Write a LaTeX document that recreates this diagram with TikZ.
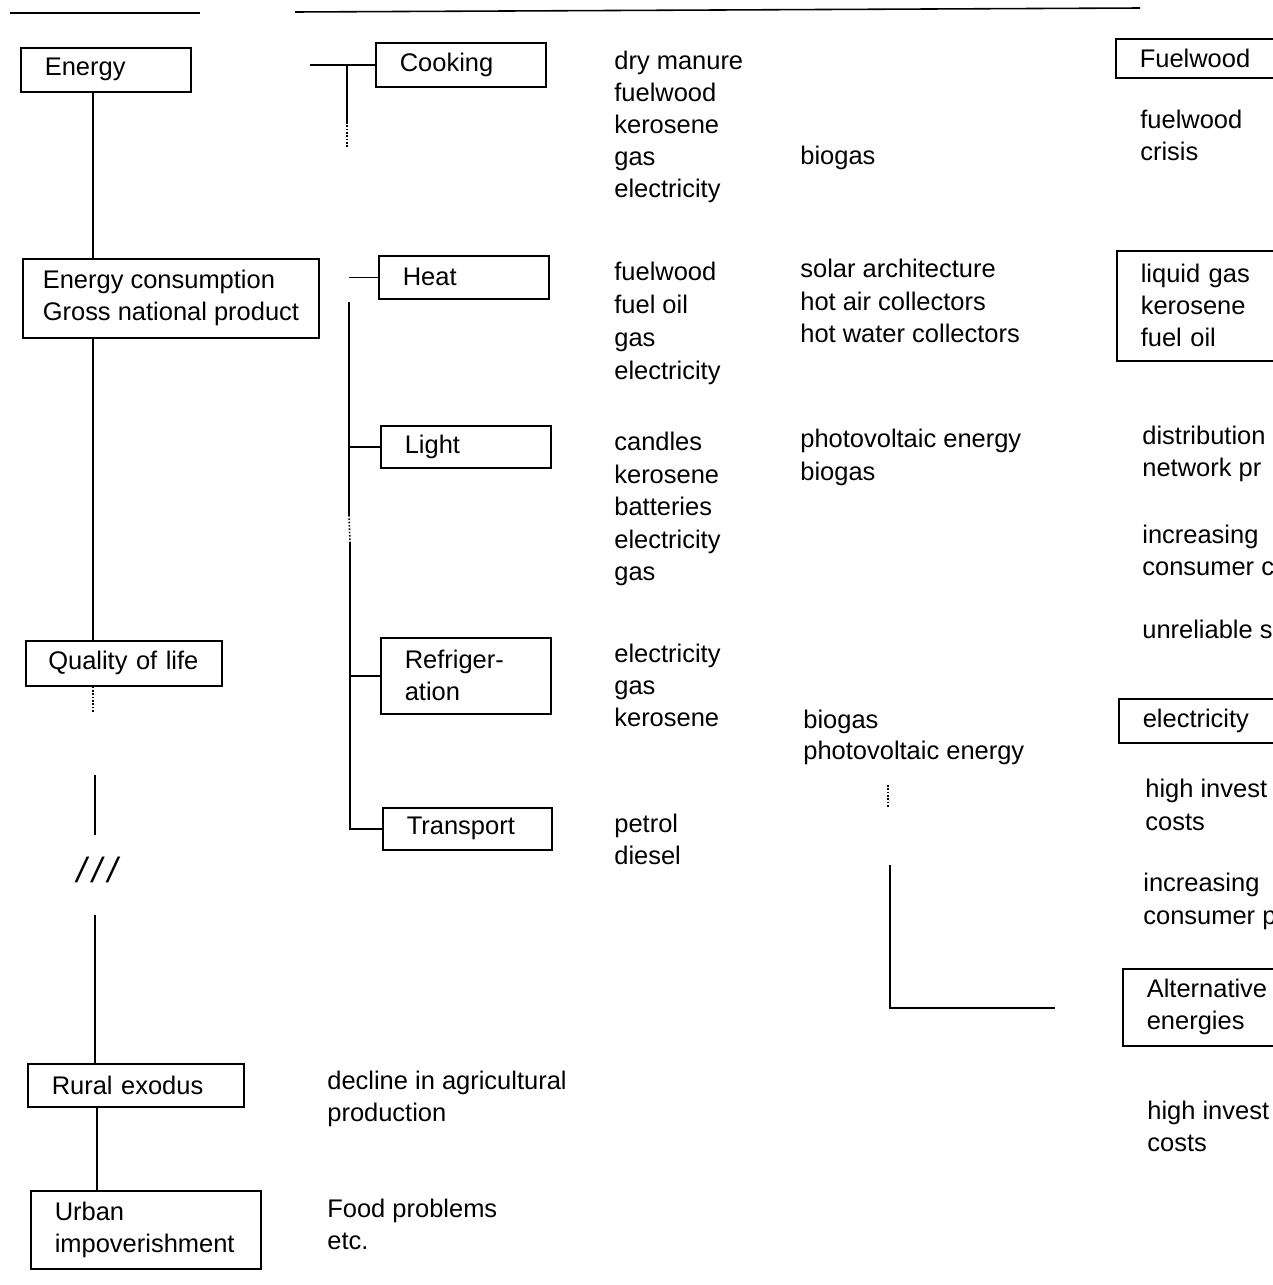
\documentclass[tikz,border=0pt]{standalone}
\usepackage{fontspec}
\setmainfont{Liberation Sans}
\begin{document}
\begin{tikzpicture}[x=0.02cm,y=-0.02cm,
	every node/.style={font=\fontsize{14.5}{18.2}\selectfont},
	box/.style={draw,line width=0.9pt,anchor=north west,align=left,inner xsep=0.48cm,inner ysep=0pt},
	item/.style={anchor=west,inner sep=0pt,text height=1.4ex,text depth=0pt},
	link/.style={line width=0.9pt}]
	\useasboundingbox (0,0) rectangle (1273,1285);
	\clip (0,0) rectangle (1273,1285);
	\coordinate (rulea) at (10,13);
	\coordinate (ruleb) at (200,13);
	\coordinate (rulec) at (295,12);
	\coordinate (ruled) at (1140,8);
	\draw[link] (rulea) to (ruleb);
	\draw[link] (rulec) to (ruled);
	% left column
	\node[box,text width=2.44cm,minimum height=0.88cm] (energy) at (20,47) {Energy};
	\node[box,inner xsep=0.4cm,minimum width=5.92cm,minimum height=1.58cm] (consum) at (22,258) {Energy consumption\\Gross national product};
	\node[box,inner xsep=0.45cm,text width=3.02cm,minimum height=0.9cm] (quality) at (25,640) {Quality of life};
	\node[box,text width=3.36cm,minimum height=0.86cm] (rural) at (27,1063) {Rural exodus};
	\node[box,text width=3.64cm,minimum height=1.56cm] (urban) at (30,1190) {Urban\\impoverishment};
	\node (brk) at (97,870) {\fontsize{20}{20}\selectfont\itshape /\,/\,/};
	\coordinate (lsp) at (93,0);
	\coordinate (rsp) at (97,0);
	\coordinate (qdot) at (93,712);
	\coordinate (brka) at (95,775);
	\coordinate (brkb) at (95,835);
	\coordinate (brkc) at (95,915);
	\draw[link] (energy.south -| lsp) to (consum.north -| lsp);
	\draw[link] (consum.south -| lsp) to (quality.north -| lsp);
	\draw[link,densely dotted] (quality.south -| lsp) to (qdot);
	\draw[link] (brka) to (brkb);
	\draw[link] (brkc) to (rural.north -| brkc);
	\draw[link] (rural.south -| rsp) to (urban.north -| rsp);
	\foreach \t [count=\i from 0] in {decline in agricultural,production}
		\node[item] (agri\i) at (327,1083+32*\i) {\t};
	\foreach \t [count=\i from 0] in {Food problems,etc.}
		\node[item] (food\i) at (327,1211+32*\i) {\t};
	% uses
	\node[box,text width=2.44cm,minimum height=0.88cm] (cooking) at (375,42) {Cooking};
	\node[box,text width=2.44cm,minimum height=0.86cm] (heat) at (378,255) {Heat};
	\node[box,text width=2.44cm,minimum height=0.84cm] (light) at (380,425) {Light};
	\node[box,text width=2.44cm,minimum height=1.52cm] (refrig) at (380,637) {Refriger-\\ation};
	\node[box,text width=2.42cm,minimum height=0.84cm] (transport) at (382,807) {Transport};
	\coordinate (ckin) at (310,0);
	\coordinate (cksp) at (347,0);
	\coordinate (ckend) at (347,122);
	\coordinate (ckdot) at (347,148);
	\coordinate (msp) at (349,0);
	\coordinate (mtop) at (349,302);
	\coordinate (mgapa) at (349,515);
	\coordinate (mgapb) at (350,542);
	\draw[link] (cooking.west -| ckin) to (cooking.west);
	\draw[link] (cooking.west -| cksp) to (ckend);
	\draw[link,densely dotted] (ckend) to (ckdot);
	\draw[link] (heat.west -| msp) to (heat.west);
	\draw[link] (mtop) to (mgapa);
	\draw[link,densely dotted] (mgapa) to (mgapb);
	\draw[link] (mgapb) to (transport.west -| mgapb) to (transport.west);
	\draw[link] (light.west -| msp) to (light.west);
	\draw[link] (refrig.west -| msp) to (refrig.west);
	% fuels
	\foreach \t [count=\i from 0] in {dry manure,fuelwood,kerosene,gas,electricity}
		\node[item] (ckf\i) at (614,63+32*\i) {\t};
	\foreach \t [count=\i from 0] in {fuelwood,fuel oil,gas,electricity}
		\node[item] (htf\i) at (614,274+33*\i) {\t};
	\foreach \t [count=\i from 0] in {candles,kerosene,batteries,electricity,gas}
		\node[item] (ltf\i) at (614,444+32.5*\i) {\t};
	\foreach \t [count=\i from 0] in {electricity,gas,kerosene}
		\node[item] (rff\i) at (614,656+32*\i) {\t};
	\foreach \t [count=\i from 0] in {petrol,diesel}
		\node[item] (tpf\i) at (614,826+32*\i) {\t};
	% alternatives
	\node[item] (ckalt) at (800,158) {biogas};
	\foreach \t [count=\i from 0] in {solar architecture,hot air collectors,hot water collectors}
		\node[item] (htalt\i) at (800,271+32.5*\i) {\t};
	\foreach \t [count=\i from 0] in {photovoltaic energy,biogas}
		\node[item] (ltalt\i) at (800,441+33*\i) {\t};
	\foreach \t [count=\i from 0] in {biogas,photovoltaic energy}
		\node[item] (rfalt\i) at (803,722+31*\i) {\t};
	\coordinate (pvdota) at (888,785);
	\coordinate (pvdotb) at (888,808);
	\coordinate (pva) at (890,865);
	\coordinate (pvb) at (890,1008);
	\coordinate (pvc) at (1055,1008);
	\draw[link,densely dotted] (pvdota) to (pvdotb);
	\draw[link] (pva) to (pvb) to (pvc);
	% problems
	\node[box,text width=3.5cm,minimum height=0.78cm] (fwbox) at (1115,38) {Fuelwood};
	\node[box,text width=3.5cm,minimum height=2.2cm] (lgbox) at (1116,250) {liquid gas\\kerosene\\fuel oil};
	\node[box,text width=3.5cm,minimum height=0.88cm] (elbox) at (1118,698) {electricity};
	\node[box,text width=3.5cm,minimum height=1.54cm] (altbox) at (1122,968) {Alternative\\energies};
	\foreach \t [count=\i from 0] in {fuelwood,crisis}
		\node[item] (fwp\i) at (1140,122+32*\i) {\t};
	\foreach \t [count=\i from 0] in {distribution,network pr}
		\node[item] (dist\i) at (1142,438+32*\i) {\t};
	\foreach \t [count=\i from 0] in {increasing,consumer c}
		\node[item] (incra\i) at (1142,537+32*\i) {\t};
	\node[item] (unrel) at (1142,632) {unreliable s};
	\foreach \t [count=\i from 0] in {high invest,costs}
		\node[item] (hia\i) at (1145,791+33*\i) {\t};
	\foreach \t [count=\i from 0] in {increasing,consumer p}
		\node[item] (incrb\i) at (1143,885+33*\i) {\t};
	\foreach \t [count=\i from 0] in {high invest,costs}
		\node[item] (hib\i) at (1147,1113+32*\i) {\t};
\end{tikzpicture}
\end{document}
